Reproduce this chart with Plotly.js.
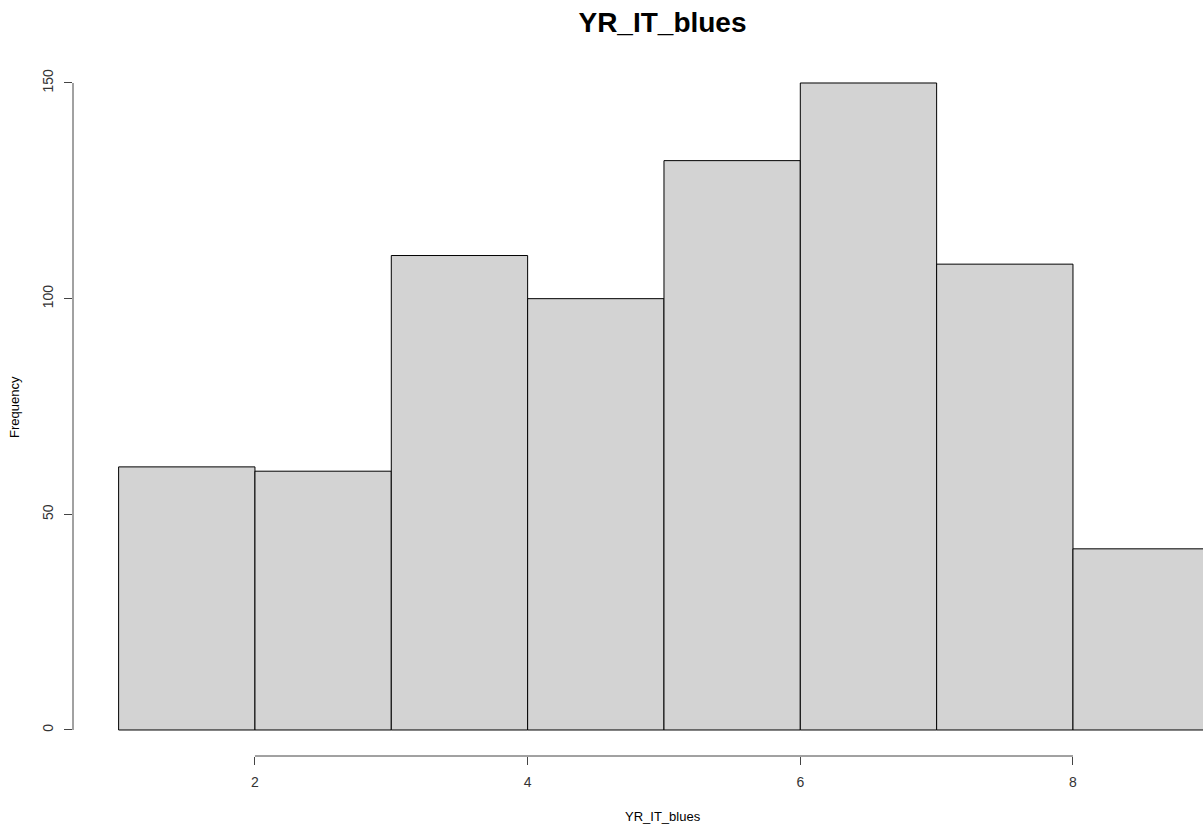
<!DOCTYPE html>
<html>
<head>
<meta charset="utf-8">
<script src="https://cdn.plot.ly/plotly-3.0.1.min.js"></script>
<style>
  html, body { margin: 0; padding: 0; background: #ffffff; }
  #chart { width: 1203px; height: 827px; }
</style>
</head>
<body>
<div id="chart"></div>
<script>
// Histogram of YR_IT_blues: bin edges and counts per bin
const binEdges = [1, 2, 3, 4, 5, 6, 7, 8, 9];
const counts = [61, 60, 110, 100, 132, 150, 108, 42];
const xTicks = [2, 4, 6, 8];
const yTicks = [0, 50, 100, 150];
const mainTitle = 'YR_IT_blues';
const xLabel = 'YR_IT_blues';
const yLabel = 'Frequency';

const centers = counts.map((_, i) => (binEdges[i] + binEdges[i + 1]) / 2);
const widths = counts.map((_, i) => binEdges[i + 1] - binEdges[i]);

const axisColor = '#444444';
const font = 'Liberation Sans, Arial, Helvetica, sans-serif';

const trace = {
  type: 'bar',
  x: centers,
  y: counts,
  width: widths,
  marker: { color: '#d3d3d3', line: { color: '#000000', width: 1 } },
  hoverinfo: 'x+y'
};

// R-style axis lines spanning only from first to last tick
const shapes = [
  {
    type: 'line', xref: 'x', yref: 'paper',
    x0: xTicks[0], x1: xTicks[xTicks.length - 1], y0: 0, y1: 0,
    line: { color: axisColor, width: 1 }
  },
  {
    type: 'line', xref: 'paper', yref: 'y',
    x0: 0, x1: 0, y0: yTicks[0], y1: yTicks[yTicks.length - 1],
    line: { color: axisColor, width: 1 }
  }
];

const layout = {
  width: 1203,
  height: 827,
  margin: { l: 73, r: 0, t: 60, b: 71, pad: 0 },
  paper_bgcolor: '#ffffff',
  plot_bgcolor: '#ffffff',
  showlegend: false,
  bargap: 0,
  title: {
    text: '<b>' + mainTitle + '</b>',
    font: { family: font, size: 28, color: '#000000' },
    xref: 'container', x: 0.5507, xanchor: 'center',
    yref: 'container', y: 0.973, yanchor: 'middle'
  },
  xaxis: {
    range: [0.6654, 8.9537],
    tickvals: xTicks,
    ticktext: xTicks.map(String),
    ticks: 'outside', ticklen: 8, tickcolor: axisColor, tickwidth: 1,
    ticklabelstandoff: 5,
    showline: false, showgrid: false, zeroline: false,
    tickfont: { family: font, size: 14, color: '#333333' },
    fixedrange: true
  },
  yaxis: {
    range: [-6.03, 155.33],
    tickvals: yTicks,
    ticktext: yTicks.map(String),
    tickangle: -90,
    ticks: 'outside', ticklen: 8, tickcolor: axisColor, tickwidth: 1,
    ticklabelstandoff: 5,
    showline: false, showgrid: false, zeroline: false,
    tickfont: { family: font, size: 14, color: '#333333' },
    fixedrange: true
  },
  shapes: shapes,
  annotations: [
    {
      text: xLabel, xref: 'paper', yref: 'paper',
      x: 0.5221, y: -0.0876, xanchor: 'center', yanchor: 'middle',
      showarrow: false, font: { family: font, size: 13, color: '#000000' }
    },
    {
      text: yLabel, xref: 'paper', yref: 'paper',
      x: -0.0522, y: 0.5014, xanchor: 'center', yanchor: 'middle',
      textangle: -90,
      showarrow: false, font: { family: font, size: 13, color: '#000000' }
    }
  ]
};

Plotly.newPlot('chart', [trace], layout, { displayModeBar: false, staticPlot: true });
</script>
</body>
</html>
